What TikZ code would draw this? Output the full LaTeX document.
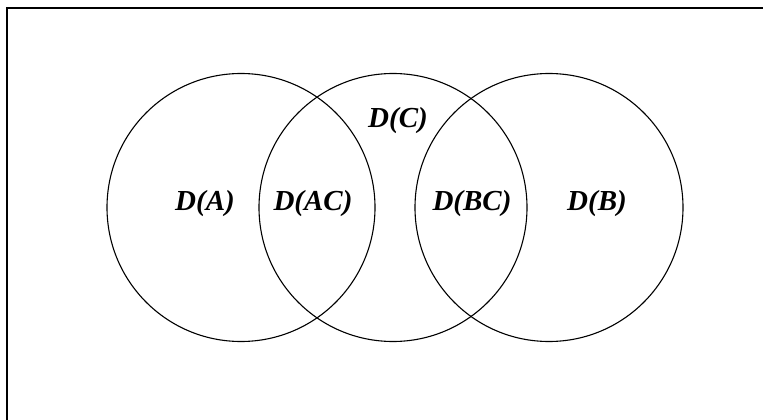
\documentclass[tikz,border=0pt]{standalone}
\usepackage{fontspec}
\setmainfont{Liberation Serif}
\begin{document}
\begin{tikzpicture}[x=1pt,y=-1pt,
  setcircle/.style={circle,draw,line width=1.1pt,minimum size=268pt,inner sep=0pt},
  lbl/.style={font=\fontsize{29}{32}\selectfont\bfseries\itshape,inner sep=0pt}]
\useasboundingbox (0,0) rectangle (763,420);
\draw[line width=1.4pt] (7,420) -- (7,8) -- (763,8);
\node[setcircle] (A) at (241,207.5) {};
\node[setcircle] (C) at (393,207.5) {};
\node[setcircle] (B) at (549,207.5) {};
\node[lbl] (lA) at (205,204) {D(A)};
\node[lbl] (lAC) at (313,204) {D(AC)};
\node[lbl] (lC) at (398,121) {D(C)};
\node[lbl] (lBC) at (472,204) {D(BC)};
\node[lbl] (lB) at (597,204) {D(B)};
\end{tikzpicture}
\end{document}
